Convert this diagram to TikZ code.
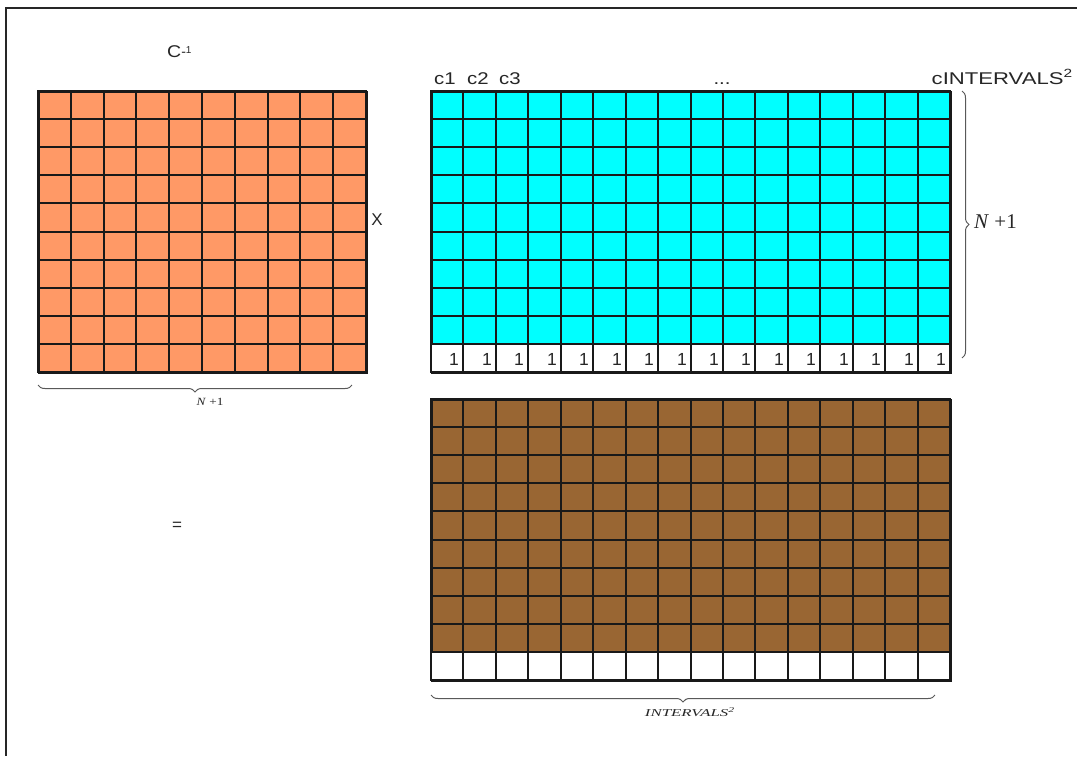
\documentclass[tikz,border=0pt]{standalone}
\usepackage{fontspec}
\setmainfont{Liberation Sans}
\newfontfamily\serifl{Liberation Serif}
\usetikzlibrary{decorations.pathreplacing}
\definecolor{orangec}{HTML}{FF9966}
\definecolor{cyanc}{HTML}{00FFFF}
\definecolor{brownc}{HTML}{996633}
\definecolor{txt}{HTML}{262626}
\tikzset{
  matbox/.style={draw=black!90, line width=1.5pt, anchor=north west, inner sep=0pt},
  gridl/.style={draw=black!90, line width=1.5pt},
  lbl/.style={text=txt, font=\fontsize{17}{19}\selectfont, inner sep=0pt},
  onelbl/.style={text=txt, font=\fontsize{17.5}{19}\selectfont, inner sep=0pt, anchor=base east},
  bracestyle/.style={draw=black!65, line width=1pt, decorate, decoration={brace, amplitude=7pt}},
  serlbl/.style={text=txt, inner sep=0pt},
}
\begin{document}
\begin{tikzpicture}[x=1pt, y=-1pt]
\useasboundingbox (0,0) rectangle (1077,756);
% frame (top and left edges visible)
\coordinate (fTL) at (6,8);
\coordinate (fTR) at (1077,8);
\coordinate (fBL) at (6,756);
\draw[black!85, line width=1.6pt] (fTR) -- (fTL) -- (fBL);

% Matrix A (orange)
\node[matbox, fill=orangec, minimum width=328pt, minimum height=281pt] (A) at (38,91) {};
\foreach \x in {71,104,136,169,202,235,268,300,333} {
  \draw[gridl] (\x,91) -- (\x,372);
}
\foreach \y in {119,147,175,203,232,260,288,316,344} {
  \draw[gridl] (38,\y) -- (366,\y);
}
\draw[matbox] (38,91) rectangle (366,372);

% Matrix B (cyan, last row of ones)
\node[matbox, fill=cyanc, minimum width=519pt, minimum height=281pt] (B) at (431,91) {};
\fill[white] (431.6,344) rectangle (949.4,371.4);
\foreach \x in {463,496,528,561,593,626,658,691,723,755,788,820,853,885,918} {
  \draw[gridl] (\x,91) -- (\x,372);
}
\foreach \y in {119,147,175,203,232,260,288,316,344} {
  \draw[gridl] (431,\y) -- (950,\y);
}
\draw[matbox] (431,91) rectangle (950,372);
\foreach \x [count=\i] in {463,496,528,561,593,626,658,691,723,755,788,820,853,885,918,950} {
  \node[onelbl] (one\i) at (\x-4,365.5) {1};
}

% Matrix R (brown, last row white)
\node[matbox, fill=brownc, minimum width=519pt, minimum height=281pt] (R) at (431,399) {};
\fill[white] (431.6,652) rectangle (949.4,679.4);
\foreach \x in {463,496,528,561,593,626,658,691,723,755,788,820,853,885,918} {
  \draw[gridl] (\x,399) -- (\x,680);
}
\foreach \y in {427,455,483,511,540,568,596,624,652} {
  \draw[gridl] (431,\y) -- (950,\y);
}
\draw[matbox] (431,399) rectangle (950,680);

% Labels
\node[lbl, anchor=base west] (cinv) at (167,57) {\scalebox{1.15}[1]{C}\raisebox{0.5pt}{\fontsize{14}{15}\selectfont -}\raisebox{4pt}{\fontsize{10}{11}\selectfont 1}};
\node[lbl, anchor=base] (c1) at (445,84) {\scalebox{1.2}[1]{c1}};
\node[lbl, anchor=base] (c2) at (478,84) {\scalebox{1.2}[1]{c2}};
\node[lbl, anchor=base] (c3) at (510,84) {\scalebox{1.2}[1]{c3}};
\node[lbl, anchor=base] (dots) at (722,84) {\scalebox{1.2}[1]{...}};
\node[lbl, anchor=base east] (clast) at (1073,84) {\scalebox{1.3}[1]{cINTERVALS\textsuperscript{2}}};
\node[lbl] (times) at (377,220) {X};
\node[lbl] (eq) at (177,526) {=};

% Braces
\coordinate (bAl) at (38,385);
\coordinate (bAr) at (352,385);
\draw[bracestyle] (bAr) -- (bAl);
\node[serlbl, font=\serifl\fontsize{11}{12}\selectfont] (nA) at (210,402) {\scalebox{1.2}[1]{\textit{N} +1}};

\coordinate (bBt) at (962,91);
\coordinate (bBb) at (962,358);
\draw[bracestyle] (bBt) -- (bBb);
\node[serlbl, font=\serifl\fontsize{21}{24}\selectfont, anchor=west] (nB) at (974,222) {\textit{N} +1};

\coordinate (bRl) at (431,695);
\coordinate (bRr) at (935,695);
\draw[bracestyle] (bRr) -- (bRl);
\node[serlbl, font=\serifl\fontsize{10.5}{12}\selectfont] (nR) at (690,712) {\scalebox{1.6}[1]{\textit{INTERVALS\textsuperscript{2}}}};
\end{tikzpicture}
\end{document}
